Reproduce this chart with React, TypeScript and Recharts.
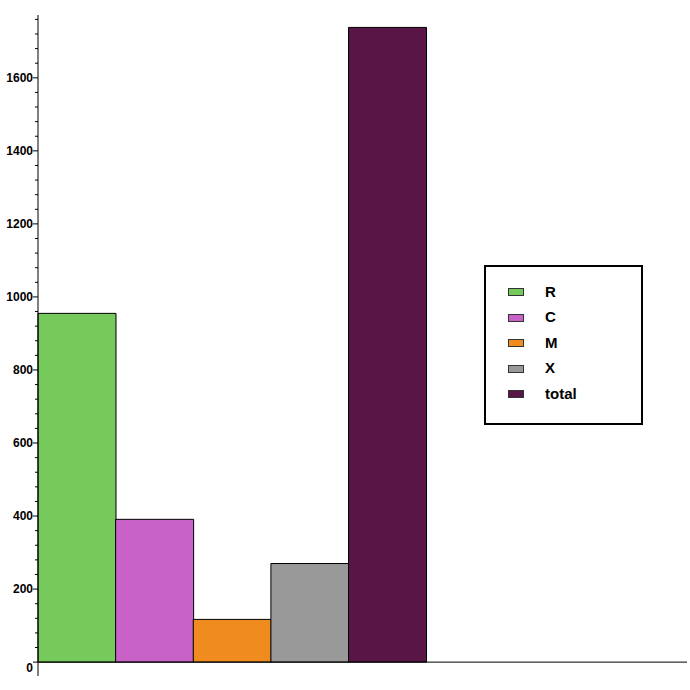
import React from "react";
import { BarChart, Bar, XAxis, YAxis, Cell, ReferenceLine, Legend } from "recharts";

const categories = ["R", "C", "M", "X", "total"];
const values = [955, 391, 117, 270, 1738];
const colors = ["#76c95b", "#c862c8", "#f08c1f", "#999999", "#581546"];
const positions = [0.5, 1.5, 2.5, 3.5, 4.5];
const yTicks: number[] = Array.from({ length: 45 }, (_, i) => i * 40);
const labelStep = 200;

const data = categories.map((name, i) => ({ name, x: positions[i], value: values[i] }));

const YTick = (props: any) => {
  const { x, y, payload } = props;
  const v = payload.value;
  const major = v % labelStep === 0;
  return (
    <g>
      <line x1={x - (major ? 5 : 3)} x2={x} y1={y} y2={y} stroke="#000" strokeWidth={1} />
      {major && (
        <text
          x={x - 5}
          y={y + (v === 0 ? 6 : 0)}
          dy="0.36em"
          textAnchor="end"
          fontFamily="'Liberation Sans', Arial, sans-serif"
          fontWeight="bold"
          fontSize={12}
          fill="#000"
        >
          {v}
        </text>
      )}
    </g>
  );
};

const LegendBox = () => (
  <div
    style={{
      width: 159,
      height: 160,
      border: "2px solid #000",
      boxSizing: "border-box",
      position: "relative",
      background: "#fff",
      fontFamily: "'Liberation Sans', Arial, sans-serif",
    }}
  >
    {categories.map((c, i) => (
      <React.Fragment key={c}>
        <div
          style={{
            position: "absolute",
            left: 22,
            top: 21.3 + i * 25.4,
            width: 16,
            height: 8,
            background: colors[i],
            border: "1px solid #333",
            boxSizing: "border-box",
          }}
        />
        <span
          style={{
            position: "absolute",
            left: 59,
            top: 16 + i * 25.4,
            fontSize: 15,
            fontWeight: "bold",
            color: "#000",
            lineHeight: "18px",
            whiteSpace: "nowrap",
          }}
        >
          {c}
        </span>
      </React.Fragment>
    ))}
  </div>
);

export default function App() {
  return (
    <div style={{ position: "absolute", left: 0, top: 0, width: 690, height: 690, background: "#fff" }}>
      <BarChart
        width={690}
        height={690}
        data={data}
        barCategoryGap={0}
        barGap={0}
        margin={{ top: 15, right: 3, bottom: 14, left: 0 }}
      >
        <XAxis dataKey="x" type="number" domain={[0, 8.36]} hide />
        <YAxis
          type="number"
          domain={[-38, 1772]}
          ticks={yTicks}
          width={38}
          tickSize={0}
          tickMargin={0}
          tickLine={false}
          axisLine={{ stroke: "#000", strokeWidth: 1 }}
          tick={<YTick />}
          interval={0}
          allowDataOverflow
        />
        <Bar dataKey="value" stroke="#000" strokeWidth={1} isAnimationActive={false}>
          {data.map((d, i) => (
            <Cell key={d.name} fill={colors[i]} />
          ))}
        </Bar>
        <ReferenceLine y={0} stroke="#000" strokeWidth={1} />
        <Legend
          layout="vertical"
          align="center"
          verticalAlign="middle"
          content={<LegendBox />}
          wrapperStyle={{ position: "absolute", left: 484, top: 265, width: 159, height: 160 }}
        />
      </BarChart>
    </div>
  );
}
